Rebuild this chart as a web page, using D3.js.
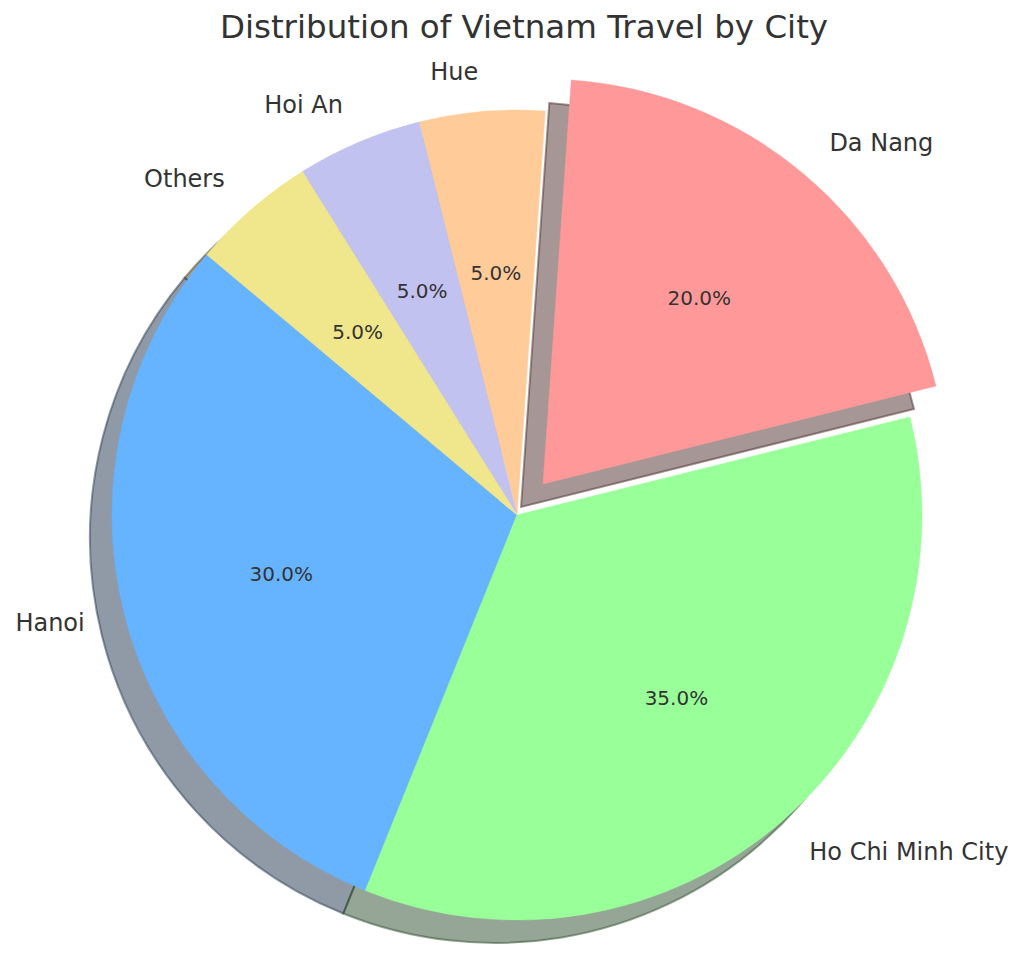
<!DOCTYPE html>
<html>
<head>
<meta charset="utf-8">
<script src="https://cdn.jsdelivr.net/npm/d3@7"></script>
<style>
  body { margin: 0; background: #fff; }
  text { font-family: "DejaVu Sans", sans-serif; fill: #333; }
</style>
</head>
<body>
<svg width="1024" height="965"></svg>
<script>
const cities = ["Hanoi", "Ho Chi Minh City", "Da Nang", "Hue", "Hoi An", "Others"];
const shares = [30, 35, 20, 5, 5, 5];
const colors = ["#66b3ff", "#99ff99", "#ff9999", "#ffcc99", "#c2c2f0", "#f0e68c"];
const explode = [0, 0, 0.1, 0, 0, 0];

const svg = d3.select("svg");
const cx = 517, cy = 515;
const radius = 405;
const shadowDx = -22, shadowDy = 23;
const startDeg = 140; // counterclockwise from 3 o'clock, like matplotlib

const rad = d => d * Math.PI / 180;

// d3 angles run clockwise from 12 o'clock, so go the negative way
const pie = d3.pie()
    .sort(null)
    .value(d => d.value)
    .startAngle(rad(90 - startDeg))
    .endAngle(rad(90 - startDeg - 360));

const arcs = pie(cities.map((c, i) => ({ name: c, value: shares[i], i })));

const arc = d3.arc().innerRadius(0).outerRadius(radius);

const offset = d => {
    const mid = (d.startAngle + d.endAngle) / 2;
    const e = explode[d.data.i] * radius;
    return [Math.sin(mid) * e, -Math.cos(mid) * e];
};

const g = svg.append("g").attr("transform", `translate(${cx},${cy})`);

// shadows first
g.selectAll(".shadow")
    .data(arcs)
    .enter()
    .append("path")
    .attr("class", "shadow")
    .attr("d", arc)
    .attr("transform", d => {
        const [ox, oy] = offset(d);
        return `translate(${ox + shadowDx},${oy + shadowDy})`;
    })
    .each(function(d) {
        const c = d3.rgb(colors[d.data.i]);
        const dark = d3.rgb(c.r * 0.3, c.g * 0.3, c.b * 0.3);
        d3.select(this)
            .attr("fill", dark)
            .attr("fill-opacity", 0.5)
            .attr("stroke", dark)
            .attr("stroke-opacity", 0.5)
            .attr("stroke-width", 2);
    });

g.selectAll(".wedge")
    .data(arcs)
    .enter()
    .append("path")
    .attr("class", "wedge")
    .attr("d", arc)
    .attr("transform", d => `translate(${offset(d)})`)
    .attr("fill", d => colors[d.data.i])
    .attr("stroke", d => colors[d.data.i])
    .attr("stroke-width", 0.5);

// outer labels at 1.1 r
g.selectAll(".label")
    .data(arcs)
    .enter()
    .append("text")
    .attr("class", "label")
    .each(function(d) {
        const mid = (d.startAngle + d.endAngle) / 2;
        const [ox, oy] = offset(d);
        const x = ox + Math.sin(mid) * radius * 1.1;
        const y = oy - Math.cos(mid) * radius * 1.1;
        d3.select(this)
            .attr("x", x)
            .attr("y", y)
            .attr("dy", "0.35em")
            .attr("text-anchor", x > ox ? "start" : "end");
    })
    .style("font-size", "24px")
    .text(d => d.data.name);

// percentages at 0.6 r
const total = d3.sum(shares);
g.selectAll(".pct")
    .data(arcs)
    .enter()
    .append("text")
    .attr("class", "pct")
    .each(function(d) {
        const mid = (d.startAngle + d.endAngle) / 2;
        const [ox, oy] = offset(d);
        d3.select(this)
            .attr("x", ox + Math.sin(mid) * radius * 0.6)
            .attr("y", oy - Math.cos(mid) * radius * 0.6)
            .attr("dy", "0.35em")
            .attr("text-anchor", "middle");
    })
    .style("font-size", "20px")
    .text(d => (d.data.value / total * 100).toFixed(1) + "%");

svg.append("text")
    .attr("x", 524)
    .attr("y", 38)
    .attr("text-anchor", "middle")
    .style("font-size", "32.5px")
    .text("Distribution of Vietnam Travel by City");
</script>
</body>
</html>
